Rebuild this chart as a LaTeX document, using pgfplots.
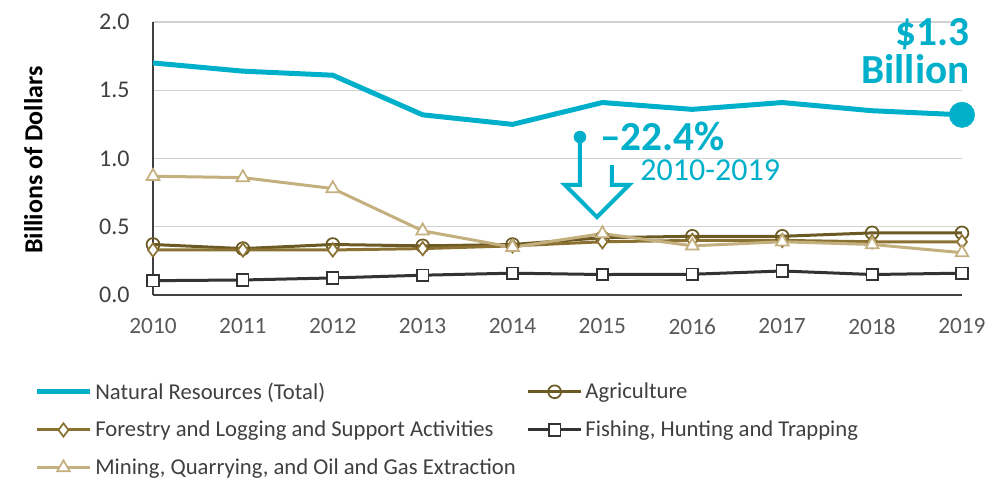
\documentclass[border=0pt]{standalone}
\usepackage{pgfplots}
\pgfplotsset{compat=1.18}
\usepackage{fontspec}
\setmainfont{Carlito}
\definecolor{cy}{HTML}{00B0CA}
\definecolor{agri}{HTML}{6B5A24}
\definecolor{fore}{HTML}{8C7232}
\definecolor{mine}{HTML}{C4B07E}
\definecolor{fish}{HTML}{333333}
\definecolor{tick}{HTML}{404040}
\definecolor{xtick}{HTML}{595959}
\begin{document}
\begin{tikzpicture}[x=0.75pt,y=0.75pt]
\useasboundingbox (-153,-184) rectangle (851,295);
\begin{axis}[
  at={(0,0)}, anchor=south west,
  scale only axis, width=606.75pt, height=204.75pt,
  xmin=2010, xmax=2019, ymin=0, ymax=2,
  axis x line=bottom, axis y line=left,
  axis line style={-, draw=tick, line width=0.8pt},
  xtick={2010,...,2019}, ytick={0,0.5,1,1.5,2},
  major tick length=0pt,
  ymajorgrids, grid style={draw=black!18, line width=0.8pt},
  xticklabel style={font=\fontsize{17.5}{19}\selectfont, text=xtick, yshift=-14pt},
  yticklabel style={font=\fontsize{18}{20}\selectfont, text=tick, xshift=-14pt},
  /pgf/number format/assume math mode=true,
  xticklabel={\pgfmathprintnumber[1000 sep={},fixed]{\tick}},
  yticklabel={\pgfmathprintnumber[fixed,fixed zerofill,precision=1]{\tick}},
  ylabel={Billions of Dollars},
  ylabel style={at={(rel axis cs:-0.148,0.494)}, anchor=center, font=\bfseries\fontsize{19.5}{20}\selectfont, text=black},
  clip=false,
  legend columns=2,
  legend cell align=left,
  legend style={at={(rel axis cs:-0.152,-0.30)}, anchor=north west, draw=none, fill=none,
    font=\fontsize{17}{19}\selectfont, text=tick,
    /tikz/every even column/.append style={column sep=6pt},
    row sep=11pt},
  legend image code/.code={\draw[mark repeat=2,mark phase=2,#1] plot coordinates {(0pt,0pt) (20pt,0pt) (40pt,0pt)};},
]
\addplot[cy, line width=3.75pt, mark=none] coordinates {
(2010,1.70) (2011,1.64) (2012,1.61) (2013,1.32) (2014,1.25) (2015,1.41) (2016,1.36) (2017,1.41) (2018,1.35) (2019,1.32)};
\addlegendentry{Natural Resources (Total)}
\addplot[agri, line width=2.25pt, mark=o, mark size=4.8pt, mark options={fill=white, line width=1.3pt}] coordinates {
(2010,0.37) (2011,0.34) (2012,0.37) (2013,0.36) (2014,0.37) (2015,0.42) (2016,0.43) (2017,0.43) (2018,0.455) (2019,0.455)};
\addlegendentry{Agriculture}
\addplot[fore, line width=2.25pt, mark=diamond*, mark size=5pt, mark options={fill=white, line width=1.3pt}] coordinates {
(2010,0.33) (2011,0.33) (2012,0.33) (2013,0.34) (2014,0.36) (2015,0.39) (2016,0.40) (2017,0.40) (2018,0.39) (2019,0.39)};
\addlegendentry{Forestry and Logging and Support Activities}
\addplot[fish, line width=2.25pt, mark=square*, mark size=4.3pt, mark options={fill=white, line width=1.3pt}] coordinates {
(2010,0.105) (2011,0.11) (2012,0.125) (2013,0.145) (2014,0.16) (2015,0.15) (2016,0.152) (2017,0.176) (2018,0.15) (2019,0.16)};
\addlegendentry{Fishing, Hunting and Trapping}
\addplot[mine, line width=2.25pt, mark=triangle*, mark size=5.5pt, mark options={fill=white, line width=1.3pt}] coordinates {
(2010,0.87) (2011,0.86) (2012,0.78) (2013,0.47) (2014,0.35) (2015,0.45) (2016,0.36) (2017,0.39) (2018,0.37) (2019,0.31)};
\addlegendentry{Mining, Quarrying, and Oil and Gas Extraction}
% big end dot
\addplot[cy, only marks, mark=*, mark size=9.5pt, forget plot] coordinates {(2019,1.32)};
% annotation dot
\addplot[cy, only marks, mark=*, mark size=4.5pt, forget plot] coordinates {(2014.75,1.1575)};
\draw[cy, line width=3pt, line join=miter]
  (axis cs:2014.75,1.1575) -- (axis cs:2014.75,0.806) -- (axis cs:2014.583,0.806)
  -- (axis cs:2014.939,0.571) -- (axis cs:2015.295,0.806) -- (axis cs:2015.106,0.806)
  -- (axis cs:2015.106,0.952);
\node[anchor=base west, text=cy, font=\bfseries\fontsize{31}{31}\selectfont, inner sep=0pt] at (axis cs:2014.97,1.062) {–22.4\%};
\node[anchor=base west, text=cy, font=\fontsize{24}{24}\selectfont, inner sep=0pt] at (axis cs:2015.42,0.842) {2010-2019};
\node[anchor=base east, text=cy, font=\bfseries\fontsize{31}{31}\selectfont, inner sep=0pt] at (axis cs:2019.088,1.83) {\$1.3};
\node[anchor=base east, text=cy, font=\bfseries\fontsize{31}{31}\selectfont, inner sep=0pt] at (axis cs:2019.088,1.553) {Billion};
\end{axis}
\end{tikzpicture}
\end{document}
